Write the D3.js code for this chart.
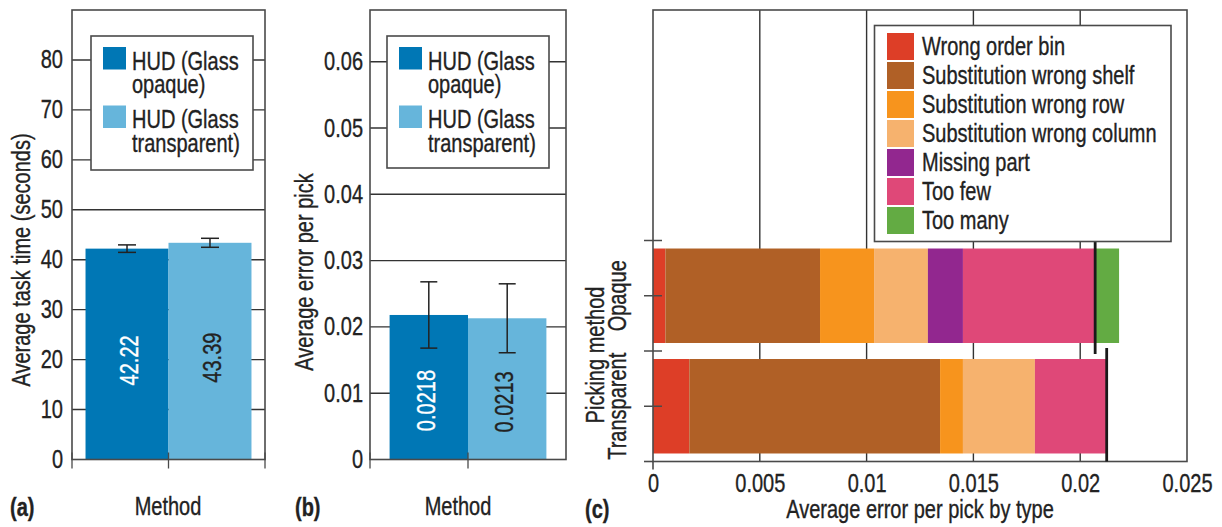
<!DOCTYPE html>
<html>
<head>
<meta charset="utf-8">
<script src="https://cdn.jsdelivr.net/npm/d3@7"></script>
<style>
  body { margin: 0; background: #fff; }
  svg { display: block; font-family: "Liberation Sans", Arial, sans-serif; }
</style>
</head>
<body>
<svg id="chart" width="1222" height="527"></svg>
<script>
// --- data ---
const methods = ["HUD (Glass opaque)", "HUD (Glass transparent)"];
const methodLegend = [["HUD (Glass", "opaque)"], ["HUD (Glass", "transparent)"]];
const methodColors = ["#0077b5", "#66b5db"];
const methodLabelColors = ["#ffffff", "#222222"];

const taskTime = [42.22, 43.39];
const taskTimeErr = [0.75, 0.9];
const taskTicks = [0, 10, 20, 30, 40, 50, 60, 70, 80];

const errorPerPick = [0.0218, 0.0213];
const errorPerPickErr = [0.005, 0.0052];
const errorTicks = [0, 0.01, 0.02, 0.03, 0.04, 0.05, 0.06];

const pickingMethods = ["Opaque", "Transparent"];
const errorTypes = ["Wrong order bin", "Substitution wrong shelf", "Substitution wrong row",
  "Substitution wrong column", "Missing part", "Too few", "Too many"];
const typeColors = ["#dd3e27", "#b06026", "#f7941d", "#f6b26e", "#92278f", "#df4878", "#63ab43"];
const opaqueByType = [0.00058, 0.00724, 0.00253, 0.00252, 0.00164, 0.00614, 0.00117];
const transparentByType = [0.0017, 0.01174, 0.00107, 0.00337, 0, 0.00333, 0];
const totalMarkers = [0.0207, 0.02124];
const typeTicks = [0, 0.005, 0.01, 0.015, 0.02, 0.025];

const svg = d3.select("#chart");
const ink = "#222";
const frameCol = "#4a4a4a";
const fs = 25;

function barPanel(cfg) {
  const g = svg.append("g");
  const y = d3.scaleLinear().domain([0, cfg.max]).range([cfg.bottom, cfg.top]);
  const x = d3.scaleBand().domain(methods).range([cfg.left, cfg.right])
    .paddingInner(0).paddingOuter(cfg.pad);

  // grid
  g.append("g").selectAll("line").data(cfg.ticks.filter(t => t > 0)).join("line")
    .attr("x1", cfg.left).attr("x2", cfg.right)
    .attr("y1", d => y(d)).attr("y2", d => y(d))
    .attr("stroke", "#333").attr("stroke-width", 1.4);

  // bars
  g.append("g").selectAll("rect").data(cfg.values).join("rect")
    .attr("x", (d, i) => x(methods[i]))
    .attr("width", x.bandwidth())
    .attr("y", d => y(d))
    .attr("height", d => y(0) - y(d))
    .attr("fill", (d, i) => methodColors[i]);

  // frame
  g.append("rect")
    .attr("x", cfg.left).attr("y", cfg.top)
    .attr("width", cfg.right - cfg.left).attr("height", cfg.bottom - cfg.top)
    .attr("fill", "none").attr("stroke", frameCol).attr("stroke-width", 1.6);

  // x ticks crossing the base line
  const xt = [cfg.left, x(methods[1])];
  if (cfg.rightTick) xt.push(cfg.right);
  g.append("g").selectAll("line").data(xt).join("line")
    .attr("x1", d => d).attr("x2", d => d)
    .attr("y1", cfg.bottom - 7).attr("y2", cfg.bottom + 9)
    .attr("stroke", frameCol).attr("stroke-width", 1.3);

  // y axis labels
  const ax = g.append("g").attr("transform", `translate(${cfg.left},0)`)
    .call(d3.axisLeft(y).tickValues(cfg.ticks).tickFormat(d => String(d)).tickSize(0).tickPadding(cfg.tickPad));
  ax.attr("font-family", null).attr("font-size", fs);
  ax.select(".domain").remove();
  ax.selectAll("text").attr("fill", ink);

  // error bars
  const eb = g.append("g").attr("stroke", ink).attr("stroke-width", 1.5);
  cfg.values.forEach((v, i) => {
    const cx = x(methods[i]) + x.bandwidth() / 2;
    const e = cfg.errs[i];
    eb.append("line").attr("x1", cx).attr("x2", cx).attr("y1", y(v + e)).attr("y2", y(v - e));
    [v + e, v - e].forEach(t => eb.append("line")
      .attr("x1", cx - cfg.cap / 2).attr("x2", cx + cfg.cap / 2)
      .attr("y1", y(t)).attr("y2", y(t)));
  });

  // value labels inside bars
  g.append("g").selectAll("text").data(cfg.values).join("text")
    .attr("transform", (d, i) => `translate(${x(methods[i]) + x.bandwidth() / 2 + cfg.labelDx},${y(d * cfg.labelAt)}) rotate(-90)`)
    .attr("text-anchor", "middle")
    .attr("font-size", fs)
    .attr("fill", (d, i) => methodLabelColors[i])
    .text(d => String(d));

  // legend
  const lg = g.append("g");
  lg.append("rect")
    .attr("x", cfg.legend[0]).attr("y", cfg.legend[1])
    .attr("width", cfg.legend[2]).attr("height", cfg.legend[3])
    .attr("fill", "#fff").attr("stroke", frameCol).attr("stroke-width", 1.6);
  methods.forEach((m, i) => {
    const top = cfg.legend[1] + 11 + i * 58.5;
    lg.append("rect").attr("x", cfg.legend[0] + 12).attr("y", top)
      .attr("width", 23).attr("height", 22.5).attr("fill", methodColors[i]);
    methodLegend[i].forEach((line, j) => lg.append("text")
      .attr("x", cfg.legend[0] + 41).attr("y", top + 22.5 + j * 23.5)
      .attr("font-size", fs).attr("fill", ink).text(line));
  });

  // titles
  g.append("text")
    .attr("transform", `translate(${cfg.yTitle[0]},${cfg.yTitle[1]}) rotate(-90)`)
    .attr("text-anchor", "middle").attr("font-size", fs).attr("fill", ink)
    .text(cfg.yLabel);
  g.append("text").attr("x", cfg.methodX).attr("y", 515)
    .attr("text-anchor", "middle").attr("font-size", fs).attr("fill", ink)
    .text("Method");
  g.append("text").attr("x", cfg.tagX).attr("y", 516)
    .attr("font-size", fs).attr("font-weight", "bold").attr("fill", ink)
    .text(cfg.tag);
}

barPanel({
  left: 72, right: 265, top: 10, bottom: 459.5, max: 90, pad: 0.163,
  values: taskTime, errs: taskTimeErr, ticks: taskTicks, tickPad: 9, cap: 18,
  labelDx: 11, labelAt: 0.47, rightTick: true,
  legend: [91, 36, 162, 134],
  yTitle: [30, 260], yLabel: "Average task time (seconds)",
  methodX: 168, tagX: 10, tag: "(a)"
});

barPanel({
  left: 370, right: 566, top: 10, bottom: 459.5, max: 0.0678, pad: 0.25,
  values: errorPerPick, errs: errorPerPickErr, ticks: errorTicks, tickPad: 7, cap: 17,
  labelDx: 6, labelAt: 0.408, rightTick: false,
  legend: [387, 36, 162, 132],
  yTitle: [313, 272], yLabel: "Average error per pick",
  methodX: 458, tagX: 295, tag: "(b)"
});

// --- panel (c): stacked horizontal bars ---
(function () {
  const left = 653, right = 1187, top = 10, bottom = 461.5;
  const g = svg.append("g");
  const x = d3.scaleLinear().domain([0, 0.025]).range([left, right]);
  const y = d3.scaleBand().domain(pickingMethods).range([240.5, bottom])
    .paddingInner(0.145).paddingOuter(0.0725);
  const step = y.step();

  const rows = pickingMethods.map((m, i) => {
    const vals = i === 0 ? opaqueByType : transparentByType;
    const r = { method: m };
    errorTypes.forEach((t, k) => r[t] = vals[k]);
    return r;
  });
  const stacked = d3.stack().keys(errorTypes)(rows);

  // vertical grid
  g.append("g").selectAll("line").data(typeTicks.filter(t => t > 0 && t < 0.025)).join("line")
    .attr("x1", d => x(d)).attr("x2", d => x(d)).attr("y1", top).attr("y2", bottom)
    .attr("stroke", "#333").attr("stroke-width", 1.4);

  // stacked bars
  g.append("g").selectAll("g").data(stacked).join("g")
    .attr("fill", (d, k) => typeColors[k])
    .selectAll("rect").data(d => d).join("rect")
    .attr("x", d => x(d[0]))
    .attr("width", d => x(d[1]) - x(d[0]))
    .attr("y", d => y(d.data.method))
    .attr("height", y.bandwidth());

  // frame
  g.append("rect").attr("x", left).attr("y", top)
    .attr("width", right - left).attr("height", bottom - top)
    .attr("fill", "none").attr("stroke", frameCol).attr("stroke-width", 1.6);
  g.append("line").attr("x1", left - 9).attr("x2", left).attr("y1", bottom).attr("y2", bottom)
    .attr("stroke", frameCol).attr("stroke-width", 1.6);
  g.append("line").attr("x1", left).attr("x2", left).attr("y1", bottom).attr("y2", bottom + 8)
    .attr("stroke", frameCol).attr("stroke-width", 1.6);

  // y ticks at cell edges and centres
  const yt = [];
  pickingMethods.forEach(m => {
    const c0 = y(m) - (step - y.bandwidth()) / 2;
    yt.push(c0, c0 + step / 2);
  });
  g.append("g").selectAll("line").data(yt).join("line")
    .attr("x1", left - 9).attr("x2", left + 9).attr("y1", d => d).attr("y2", d => d)
    .attr("stroke", frameCol).attr("stroke-width", 1.5);

  // total markers
  g.append("g").selectAll("line").data(totalMarkers).join("line")
    .attr("x1", d => x(d)).attr("x2", d => x(d))
    .attr("y1", (d, i) => y(pickingMethods[i]) - 11)
    .attr("y2", (d, i) => Math.min(y(pickingMethods[i]) + y.bandwidth() + 11, bottom))
    .attr("stroke", "#1a1a1a").attr("stroke-width", 2.8);

  // x axis labels
  const ax = g.append("g").attr("transform", `translate(0,${bottom})`)
    .call(d3.axisBottom(x).tickValues(typeTicks).tickFormat(d => String(d)).tickSize(0).tickPadding(13));
  ax.attr("font-family", null).attr("font-size", fs);
  ax.select(".domain").remove();
  ax.selectAll("text").attr("fill", ink);

  // category labels (rotated)
  g.append("g").selectAll("text").data(pickingMethods).join("text")
    .attr("transform", d => `translate(626,${y(d) + y.bandwidth() / 2}) rotate(-90)`)
    .attr("text-anchor", "middle").attr("font-size", fs).attr("fill", ink)
    .text(d => d);
  g.append("text")
    .attr("transform", "translate(604,355) rotate(-90)")
    .attr("text-anchor", "middle").attr("font-size", fs).attr("fill", ink)
    .text("Picking method");

  g.append("text").attr("x", (left + right) / 2).attr("y", 518)
    .attr("text-anchor", "middle").attr("font-size", fs).attr("fill", ink)
    .text("Average error per pick by type");
  g.append("text").attr("x", 585).attr("y", 518)
    .attr("font-size", fs).attr("font-weight", "bold").attr("fill", ink)
    .text("(c)");

  // legend
  const lg = g.append("g");
  lg.append("rect").attr("x", 874.5).attr("y", 25.5).attr("width", 296.5).attr("height", 216)
    .attr("fill", "#fff").attr("stroke", frameCol).attr("stroke-width", 1.6);
  errorTypes.forEach((t, k) => {
    const yy = 33 + k * 29;
    lg.append("rect").attr("x", 887).attr("y", yy).attr("width", 27).attr("height", 27)
      .attr("fill", typeColors[k]);
    lg.append("text").attr("x", 922).attr("y", yy + 22)
      .attr("font-size", fs).attr("fill", ink).text(t);
  });
})();

// the figure uses a condensed face; squeeze every label horizontally
svg.selectAll("text").each(function () {
  const w = this.getComputedTextLength();
  this.setAttribute("textLength", (w * 0.8).toFixed(1));
  this.setAttribute("lengthAdjust", "spacingAndGlyphs");
  this.setAttribute("stroke", this.getAttribute("fill") || ink);
  this.setAttribute("stroke-width", 0.35);
});
</script>
</body>
</html>
